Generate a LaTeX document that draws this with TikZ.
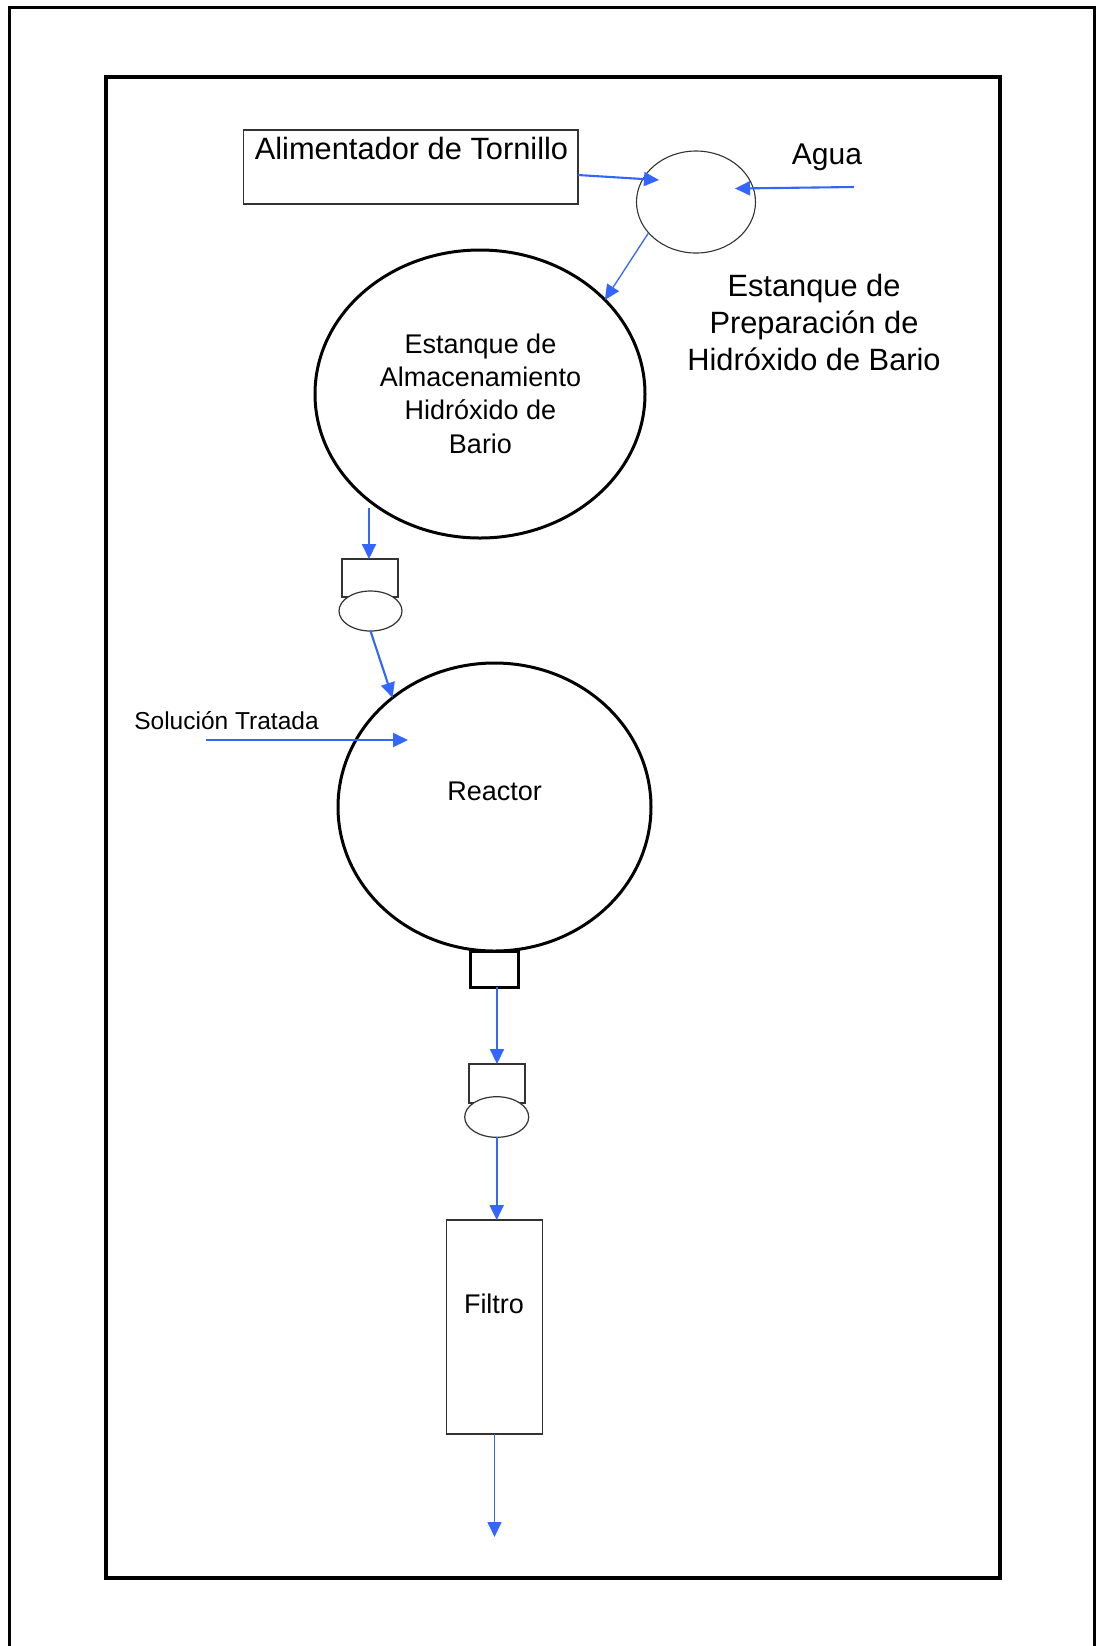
\documentclass[tikz,border=0pt]{standalone}
\usepackage{fontspec}
\setmainfont{Liberation Sans}
\usetikzlibrary{arrows.meta,shapes.geometric}
\definecolor{flowblue}{RGB}{51,102,255}
\begin{document}
\begin{tikzpicture}[x=0.5pt,y=-0.5pt,
  frame/.style={line width=1.5pt,line cap=rect},
  vessel/.style={ellipse,draw,line width=1.5pt,inner sep=0pt,outer sep=0pt},
  minor/.style={draw=black!80,line width=0.6pt,inner sep=0pt,outer sep=0pt,fill=white},
  flow/.style={draw=flowblue,line width=1.05pt,-{Triangle[length=7.5pt,width=7pt]}},
  flowthin/.style={flow,line width=0.65pt},
  lbl/.style={inner sep=0pt,anchor=base,align=center},
]
\useasboundingbox (0,0) rectangle (1098,1646);
% sheet border, open at the bottom
\draw[frame] (9.5,1646) -- (9.5,7) -- (1094,7) -- (1094,1646);
% drawing frame
\draw[frame,line width=1.6pt] (106,77) rectangle (1000,1578);

% equipment
\node[minor,rectangle,line width=0.65pt,minimum width=167.25pt,minimum height=37pt] (alim) at (410.75,167) {};
\node[minor,ellipse,line width=0.55pt,minimum width=59.5pt,minimum height=51pt] (prep) at (696,202) {};
\node[vessel,minimum width=165pt,minimum height=144pt] (storage) at (480,394) {};
\node[minor,rectangle,minimum width=28pt,minimum height=19pt] (p1box) at (370,578) {};
\node[minor,ellipse,minimum width=31.5pt,minimum height=20pt] (p1pump) at (370.5,611) {};
\node[vessel,minimum width=156.5pt,minimum height=144pt] (reactor) at (494.5,807) {};
\node[rectangle,draw,fill=white,line width=1.5pt,inner sep=0pt,outer sep=0pt,minimum width=23.8pt,minimum height=18pt] (outlet) at (494.5,969) {};
\node[minor,rectangle,minimum width=28pt,minimum height=19.5pt] (p2box) at (497,1083.5) {};
\node[minor,ellipse,minimum width=32pt,minimum height=20.3pt] (p2pump) at (496.7,1117) {};
\node[minor,rectangle,line width=0.65pt,minimum width=47.8pt,minimum height=107pt] (filter) at (494.5,1327) {};

% labels (multi-line labels sit on the baseline of their last line)
\node[lbl,font=\fontsize{15.4}{18.5}\selectfont] (alimText) at (411.5,159) {Alimentador de Tornillo};
\node[lbl,font=\fontsize{15}{18}\selectfont] (aguaText) at (827,164) {Agua};
\node[lbl,font=\fontsize{15.4}{18.5}\selectfont] (prepText) at (814,370.7) {Estanque de\\Preparación de\\Hidróxido de Bario};
\node[lbl,font=\fontsize{13.5}{16.65}\selectfont] (storeText) at (480.5,453) {Estanque de\\Almacenamiento\\Hidróxido de\\Bario};
\node[lbl,font=\fontsize{13.5}{16.5}\selectfont] (reactorText) at (494.7,800.7) {Reactor};
\node[lbl,font=\fontsize{12.25}{15}\selectfont] (solText) at (226.5,729) {Solución Tratada};
\node[lbl,font=\fontsize{13.5}{16.5}\selectfont] (filterText) at (494,1313) {Filtro};

% free ends of the flow lines
\coordinate (prepIn) at (659,180);
\coordinate (aguaSrc) at (854,187);
\coordinate (aguaTip) at (735,188.5);
\coordinate (storeOut) at (369,508);
\coordinate (solSrc) at (206,740);
\coordinate (solTip) at (408,740);
\coordinate (filterOut) at (494.5,1537);

% flows
\draw[flow] ([yshift=-4pt]alim.east) -- (prepIn);
\draw[flow] (aguaSrc) -- (aguaTip);
\draw[flowthin] (prep.213) -- (storage.37);
\draw[flow] (storeOut) -- (storeOut |- p1box.north);
\draw[flow] (p1pump.south) -- (reactor.133);
\draw[flow] (solSrc) -- (solTip);
\draw[flow] (p2box.north |- outlet.south) -- (p2box.north);
\draw[flow] (p2pump.south) -- (p2pump.south |- filter.north);
\draw[flow,line width=0.8pt] (filter.south) -- (filterOut);
\end{tikzpicture}
\end{document}
